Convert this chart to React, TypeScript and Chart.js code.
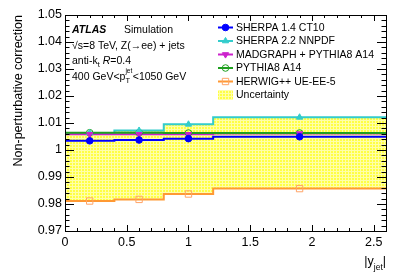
import React, { useEffect, useRef } from 'react';
import { Chart, registerables } from 'chart.js';
import { drawPoint } from 'chart.js/helpers';

Chart.register(...registerables);

const binEdges = [0, 0.4, 0.8, 1.2, 2.6];
const binCenters = [0.2, 0.6, 1.0, 1.9];
const sherpa14 = [1.0034, 1.0037, 1.0042, 1.0049];
const sherpa22 = [1.0063, 1.0072, 1.0095, 1.0121];
const madgraph = [1.0058, 1.0058, 1.0058, 1.0061];
const pythia8 = [1.0064, 1.0064, 1.0063, 1.0063];
const herwig = [0.9811, 0.9817, 0.9837, 0.9857];
const uncUp = [1.0064, 1.0072, 1.0095, 1.0121];
const uncDown = [0.9811, 0.9817, 0.9837, 0.9857];
const xTicks = [0, 0.5, 1, 1.5, 2, 2.5];
const yTicks = [0.97, 0.98, 0.99, 1.0, 1.01, 1.02, 1.03, 1.04, 1.05];
const seriesLabels = ['SHERPA 1.4 CT10', 'SHERPA 2.2 NNPDF', 'MADGRAPH + PYTHIA8 A14', 'PYTHIA8 A14', 'HERWIG++ UE-EE-5'];
const bandLabel = 'Uncertainty';

const FONT = "'Liberation Sans', Arial, Helvetica, sans-serif";
const COL = {
  blue: '#0000ff',
  cyan: '#33cccc',
  magenta: '#cc22cc',
  green: '#1f9f1f',
  orange: '#ff9933',
  orangeMarker: '#ffa366',
};

const styles = [
  { color: COL.blue, mColor: COL.blue, style: 'circle', r: 3.3, fill: true, rot: 0 },
  { color: COL.cyan, mColor: COL.cyan, style: 'triangle', r: 3.6, fill: true, rot: 0 },
  { color: COL.magenta, mColor: COL.magenta, style: 'triangle', r: 3.6, fill: true, rot: 180 },
  { color: COL.green, mColor: COL.green, style: 'circle', r: 3.3, fill: false, rot: 0 },
  { color: COL.orange, mColor: COL.orangeMarker, style: 'rect', r: 4.5, fill: false, rot: 0 },
];
const seriesValues = [sherpa14, sherpa22, madgraph, pythia8, herwig];

function steps(vals: number[]) {
  return binEdges.map((x, i) => ({ x, y: vals[Math.min(i, vals.length - 1)] }));
}
function centers(vals: number[]) {
  return binCenters.map((x, i) => ({ x, y: vals[i] }));
}
function fmt(v: number) {
  return String(Number(v.toFixed(3)));
}

function makePattern(): CanvasPattern | string {
  const c = document.createElement('canvas');
  c.width = 3;
  c.height = 3;
  const g = c.getContext('2d');
  if (!g) return '#ffff66';
  g.fillStyle = '#ffff44';
  g.fillRect(0, 0, 3, 3);
  g.fillStyle = '#ffffa8';
  g.fillRect(0, 0, 3, 1);
  g.fillRect(0, 0, 1, 3);
  const p = g.createPattern(c, 'repeat');
  return p || '#ffff66';
}

const overlay = {
  id: 'rootStyle',
  afterDraw(chart: any) {
    const ctx = chart.ctx as CanvasRenderingContext2D;
    const { left, right, top, bottom } = chart.chartArea;
    const xs = chart.scales.x;
    const ys = chart.scales.y;
    ctx.save();
    ctx.strokeStyle = '#000';
    ctx.lineWidth = 1;
    ctx.strokeRect(Math.round(left) + 0.5, Math.round(top) + 0.5, Math.round(right - left), Math.round(bottom - top));
    ctx.beginPath();
    for (let i = 0; i <= 26; i++) {
      const v = i * 0.1;
      const px = Math.round(xs.getPixelForValue(v)) + 0.5;
      const major = i % 5 === 0;
      const len = major ? 6 : 3;
      ctx.moveTo(px, bottom);
      ctx.lineTo(px, bottom - len);
      ctx.moveTo(px, top);
      ctx.lineTo(px, top + len);
    }
    for (let i = 0; i <= 40; i++) {
      const v = 0.97 + i * 0.002;
      const py = Math.round(ys.getPixelForValue(v)) + 0.5;
      const major = i % 5 === 0;
      const len = major ? 9 : 4.5;
      ctx.moveTo(left, py);
      ctx.lineTo(left + len, py);
      ctx.moveTo(right, py);
      ctx.lineTo(right - len, py);
    }
    ctx.stroke();

    ctx.fillStyle = '#000';
    ctx.textBaseline = 'alphabetic';
    ctx.save();
    ctx.translate(22, top);
    ctx.rotate(-Math.PI / 2);
    ctx.textAlign = 'right';
    ctx.font = `12.5px ${FONT}`;
    ctx.fillText('Non-perturbative correction', 0, 0);
    ctx.restore();

    ctx.textAlign = 'left';
    const mainF = `12.5px ${FONT}`;
    const subF = `8.5px ${FONT}`;
    ctx.font = mainF;
    const wBar = ctx.measureText('|').width;
    const wY = ctx.measureText('|y').width;
    ctx.font = subF;
    const wSub = ctx.measureText('jet').width;
    let sx = right - wBar - wSub - wY;
    ctx.font = mainF;
    ctx.fillText('|y', sx, 265);
    sx += wY;
    ctx.font = subF;
    ctx.fillText('jet', sx, 270);
    sx += wSub;
    ctx.font = mainF;
    ctx.fillText('|', sx, 265);

    const tx = 72;
    ctx.font = `italic bold 10.5px ${FONT}`;
    ctx.fillText('ATLAS', tx, 33);
    ctx.font = `10.5px ${FONT}`;
    ctx.fillText('Simulation', 124, 33);
    ctx.fillText('\u221As=8 TeV, Z(\u2192ee) + jets', tx, 48.5);
    let cx = tx;
    ctx.fillText('anti-k', cx, 64);
    cx += ctx.measureText('anti-k').width;
    ctx.font = `7.5px ${FONT}`;
    ctx.fillText('t', cx, 67);
    cx += ctx.measureText('t').width + 3;
    ctx.font = `italic 10.5px ${FONT}`;
    ctx.fillText('R', cx, 64);
    cx += ctx.measureText('R').width;
    ctx.font = `10.5px ${FONT}`;
    ctx.fillText('=0.4', cx, 64);
    cx = tx;
    const b4 = 80;
    ctx.fillText('400 GeV<p', cx, b4);
    cx += ctx.measureText('400 GeV<p').width;
    ctx.font = `7.5px ${FONT}`;
    ctx.fillText('T', cx, b4 + 3);
    ctx.font = `6.5px ${FONT}`;
    ctx.fillText('jet', cx, b4 - 7);
    const wj = ctx.measureText('jet').width;
    cx += wj + 0.5;
    ctx.font = `10.5px ${FONT}`;
    ctx.fillText('<1050 GeV', cx, b4);

    const lx0 = 218;
    const lx1 = 233;
    const ltx = 236;
    ctx.textBaseline = 'middle';
    ctx.font = `10.5px ${FONT}`;
    for (let i = 0; i < seriesLabels.length; i++) {
      const y = 27.5 + 13.5 * i;
      const s = styles[i];
      ctx.strokeStyle = s.color;
      ctx.lineWidth = 2;
      ctx.beginPath();
      ctx.moveTo(lx0, y);
      ctx.lineTo(lx1, y);
      ctx.stroke();
      ctx.lineWidth = 1;
      ctx.strokeStyle = s.mColor;
      ctx.fillStyle = s.fill ? s.mColor : 'rgba(255,255,255,0)';
      drawPoint(ctx, { pointStyle: s.style, radius: s.r, rotation: s.rot, borderWidth: 1 } as any, (lx0 + lx1) / 2, y);
      ctx.fillStyle = '#000';
      ctx.fillText(seriesLabels[i], ltx, y + 0.5);
    }
    const by = 27.5 + 13.5 * 5;
    ctx.fillStyle = chart.$bandPattern || '#ffff66';
    ctx.fillRect(lx0, by - 5, lx1 - lx0, 10);
    ctx.fillStyle = '#000';
    ctx.fillText(bandLabel, ltx, by + 0.5);
    ctx.restore();
  },
};

export default function App() {
  const ref = useRef<HTMLCanvasElement>(null);
  useEffect(() => {
    if (!ref.current) return;
    const pattern = makePattern();
    const lineDatasets = seriesValues.map((vals, i) => ({
      type: 'line' as const,
      data: steps(vals),
      borderColor: styles[i].color,
      borderWidth: 2,
      stepped: 'before' as const,
      pointRadius: 0,
      fill: false,
      order: [5, 7, 6, 4, 8][i],
    }));
    const markerDatasets = seriesValues.map((vals, i) => ({
      type: 'line' as const,
      data: centers(vals),
      showLine: false,
      borderColor: styles[i].mColor,
      backgroundColor: styles[i].fill ? styles[i].mColor : 'rgba(255,255,255,0)',
      pointStyle: styles[i].style,
      pointRadius: styles[i].r,
      pointRotation: styles[i].rot,
      pointBorderWidth: 1,
      pointBackgroundColor: styles[i].fill ? styles[i].mColor : 'rgba(255,255,255,0)',
      pointBorderColor: styles[i].mColor,
      fill: false,
      order: [0, 2, 1, 3, 4][i],
    }));
    const chart: any = new Chart(ref.current, {
      type: 'line',
      data: {
        datasets: [
          {
            type: 'line',
            data: steps(uncDown),
            borderWidth: 0,
            borderColor: 'rgba(0,0,0,0)',
            stepped: 'before',
            pointRadius: 0,
            fill: false,
            order: 20,
          } as any,
          {
            type: 'line',
            data: steps(uncUp),
            borderWidth: 0,
            borderColor: 'rgba(0,0,0,0)',
            backgroundColor: pattern as any,
            stepped: 'before',
            pointRadius: 0,
            fill: '-1',
            order: 19,
          } as any,
          ...lineDatasets,
          ...markerDatasets,
        ],
      },
      options: {
        responsive: false,
        animation: false,
        devicePixelRatio: 1,
        layout: { padding: { left: 0, right: 21, top: 15, bottom: 0 } },
        plugins: {
          legend: { display: false },
          tooltip: { enabled: false },
          filler: { propagate: false },
        },
        scales: {
          x: {
            type: 'linear',
            min: 0,
            max: 2.6,
            grid: { display: false, drawTicks: false },
            border: { display: false },
            afterBuildTicks: (s: any) => {
              s.ticks = xTicks.map((v) => ({ value: v }));
            },
            afterFit: (s: any) => {
              s.height = 45;
            },
            ticks: {
              padding: 4,
              color: '#000',
              font: { family: FONT, size: 12.5 },
              maxRotation: 0,
              autoSkip: false,
              callback: (v: any) => fmt(Number(v)),
            },
          },
          y: {
            type: 'linear',
            min: 0.97,
            max: 1.05,
            grid: { display: false, drawTicks: false },
            border: { display: false },
            afterBuildTicks: (s: any) => {
              s.ticks = yTicks.map((v) => ({ value: v }));
            },
            afterFit: (s: any) => {
              s.width = 65;
            },
            ticks: {
              padding: 3,
              color: '#000',
              font: { family: FONT, size: 12.5 },
              autoSkip: false,
              callback: (v: any) => fmt(Number(v)),
            },
          },
        },
      },
      plugins: [overlay as any],
    });
    chart.$bandPattern = pattern;
    chart.draw();
    return () => chart.destroy();
  }, []);
  return (
    <div style={{ position: 'fixed', left: 0, top: 0, width: 407, height: 276, background: '#fff' }}>
      <canvas ref={ref} width={407} height={276} style={{ display: 'block', width: 407, height: 276 }} />
    </div>
  );
}
